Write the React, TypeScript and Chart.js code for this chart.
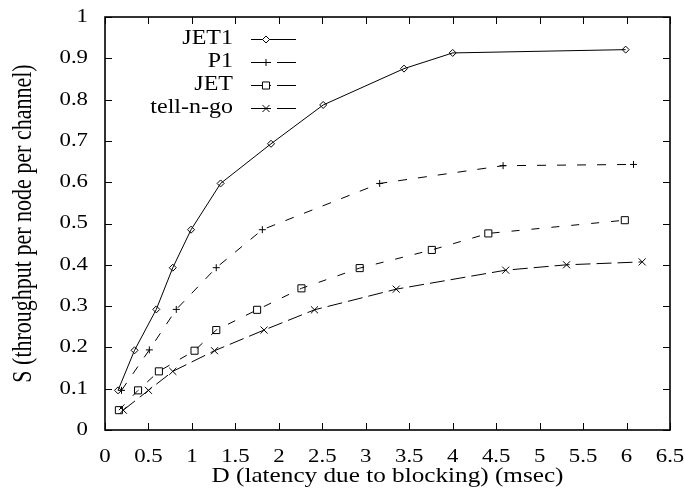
import React, { useEffect, useRef } from 'react';
import { Chart, registerables } from 'chart.js';
import { drawPoint } from 'chart.js/helpers';

Chart.register(...registerables);

// ---- data ----
const seriesNames = ['JET1', 'P1', 'JET', 'tell-n-go'];

const jet1X = [0.15, 0.34, 0.59, 0.78, 0.99, 1.33, 1.91, 2.51, 3.44, 4.0, 5.99];
const jet1Y = [0.096, 0.193, 0.292, 0.393, 0.485, 0.597, 0.693, 0.787, 0.875, 0.913, 0.921];

const p1X = [0.19, 0.51, 0.82, 1.28, 1.81, 3.16, 4.58, 6.08];
const p1Y = [0.096, 0.194, 0.292, 0.393, 0.485, 0.597, 0.64, 0.643];

const jetX = [0.16, 0.38, 0.62, 1.03, 1.28, 1.75, 2.26, 2.93, 3.76, 4.41, 5.98];
const jetY = [0.048, 0.096, 0.142, 0.192, 0.242, 0.291, 0.343, 0.392, 0.436, 0.476, 0.508];

const tellX = [0.21, 0.5, 0.78, 1.26, 1.83, 2.41, 3.35, 4.61, 5.31, 6.18];
const tellY = [0.048, 0.096, 0.142, 0.192, 0.242, 0.291, 0.341, 0.387, 0.4, 0.407];

const xTickValues = [0, 0.5, 1, 1.5, 2, 2.5, 3, 3.5, 4, 4.5, 5, 5.5, 6, 6.5];
const xTickLabels = ['0', '0.5', '1', '1.5', '2', '2.5', '3', '3.5', '4', '4.5', '5', '5.5', '6', '6.5'];
const yTickValues = [0, 0.1, 0.2, 0.3, 0.4, 0.5, 0.6, 0.7, 0.8, 0.9, 1];
const yTickLabels = ['0', '0.1', '0.2', '0.3', '0.4', '0.5', '0.6', '0.7', '0.8', '0.9', '1'];

const xTitle = 'D (latency due to blocking) (msec)';
const yTitle = 'S (throughput per node per channel)';

// ---- styles ----
const FONT = 'Liberation Serif';
const TEXT_STRETCH = 1.2; // reference text is horizontally widened

function toPoints(xs: number[], ys: number[]) {
  return xs.map((x, i) => ({ x, y: ys[i] }));
}

// widen all canvas text horizontally (in screen space) around its anchor
function stretchText(ctx: CanvasRenderingContext2D) {
  const origFill = ctx.fillText.bind(ctx);
  const origMeasure = ctx.measureText.bind(ctx);
  (ctx as any).fillText = (text: string, x: number, y: number, maxWidth?: number) => {
    const m = ctx.getTransform();
    const p = m.transformPoint(new DOMPoint(x, y));
    const s = new DOMMatrix([TEXT_STRETCH, 0, 0, 1, p.x * (1 - TEXT_STRETCH), 0]);
    ctx.setTransform(s.multiply(m));
    if (maxWidth === undefined || maxWidth === null) origFill(text, x, y);
    else origFill(text, x, y, maxWidth);
    ctx.setTransform(m);
  };
  (ctx as any).measureText = (text: string) => {
    const r = origMeasure(text);
    return {
      width: r.width * TEXT_STRETCH,
      actualBoundingBoxLeft: r.actualBoundingBoxLeft * TEXT_STRETCH,
      actualBoundingBoxRight: r.actualBoundingBoxRight * TEXT_STRETCH,
      actualBoundingBoxAscent: r.actualBoundingBoxAscent,
      actualBoundingBoxDescent: r.actualBoundingBoxDescent,
      fontBoundingBoxAscent: r.fontBoundingBoxAscent,
      fontBoundingBoxDescent: r.fontBoundingBoxDescent,
    };
  };
}

const framePlugin = {
  id: 'frame',
  afterDatasetsDraw(chart: any) {
    const { ctx, chartArea: a, scales } = chart;
    const tl = 7;
    ctx.save();
    ctx.strokeStyle = '#000';
    ctx.lineWidth = 1;
    ctx.setLineDash([]);
    ctx.beginPath();
    for (const v of xTickValues) {
      const px = Math.round(scales.x.getPixelForValue(v)) + 0.5;
      ctx.moveTo(px, a.bottom);
      ctx.lineTo(px, a.bottom - tl);
      ctx.moveTo(px, a.top);
      ctx.lineTo(px, a.top + tl);
    }
    for (const v of yTickValues) {
      const py = Math.round(scales.y.getPixelForValue(v)) + 0.5;
      ctx.moveTo(a.left, py);
      ctx.lineTo(a.left + tl, py);
      ctx.moveTo(a.right, py);
      ctx.lineTo(a.right - tl, py);
    }
    ctx.stroke();
    ctx.lineWidth = 1.6;
    ctx.strokeRect(a.left, a.top, a.right - a.left, a.bottom - a.top);
    ctx.restore();
  },
};

const keyPlugin = {
  id: 'key',
  afterDraw(chart: any) {
    const { ctx, chartArea: a } = chart;
    chart.data.datasets.forEach((ds: any, i: number) => {
      const y = a.top + 22 + i * 23;
      ctx.save();
      ctx.font = `20px "${FONT}"`;
      ctx.fillStyle = '#000';
      ctx.textAlign = 'right';
      ctx.textBaseline = 'middle';
      ctx.fillText(ds.label, a.left + 128, y);
      ctx.strokeStyle = '#000';
      ctx.lineWidth = 1;
      ctx.setLineDash(ds.borderDash && ds.borderDash.length ? [20, 6] : []);
      ctx.beginPath();
      ctx.moveTo(a.left + 146, y + 0.5);
      ctx.lineTo(a.left + 191, y + 0.5);
      ctx.stroke();
      ctx.setLineDash([]);
      ctx.fillStyle = '#fff';
      drawPoint(ctx, { pointStyle: ds.pointStyle, radius: ds.pointRadius, borderWidth: 1, rotation: 0 } as any, a.left + 161, y + 0.5);
      ctx.restore();
    });
  },
};

export default function App() {
  const canvasRef = useRef<HTMLCanvasElement | null>(null);

  useEffect(() => {
    const canvas = canvasRef.current;
    if (!canvas) return;
    const ctx = canvas.getContext('2d') as CanvasRenderingContext2D;
    stretchText(ctx);

    const common = {
      borderColor: '#000',
      borderWidth: 1,
      pointBorderColor: '#000',
      pointBackgroundColor: 'rgba(0,0,0,0)',
      pointBorderWidth: 1,
      tension: 0,
      fill: false,
    };

    const chart = new Chart(ctx, {
      type: 'line',
      data: {
        datasets: [
          { ...common, label: seriesNames[0], data: toPoints(jet1X, jet1Y), pointStyle: 'rectRot', pointRadius: 3.5, borderDash: [] },
          { ...common, label: seriesNames[1], data: toPoints(p1X, p1Y), pointStyle: 'cross', pointRadius: 3.5, borderDash: [9, 11] },
          { ...common, label: seriesNames[2], data: toPoints(jetX, jetY), pointStyle: 'rect', pointRadius: 5, borderDash: [8, 12] },
          { ...common, label: seriesNames[3], data: toPoints(tellX, tellY), pointStyle: 'crossRot', pointRadius: 5, borderDash: [15, 6] },
        ],
      },
      options: {
        animation: false,
        responsive: false,
        maintainAspectRatio: false,
        layout: { padding: { left: 0, right: 15, top: 17, bottom: 0 } },
        plugins: { legend: { display: false }, tooltip: { enabled: false } },
        scales: {
          x: {
            type: 'linear',
            min: 0,
            max: 6.5,
            afterBuildTicks: (s: any) => {
              s.ticks = xTickValues.map((v) => ({ value: v }));
            },
            afterFit: (s: any) => {
              s.height = 59;
              s.paddingLeft = 0;
              s.paddingRight = 0;
            },
            grid: { display: false, drawTicks: false },
            border: { display: false },
            ticks: {
              padding: 16,
              color: '#000',
              autoSkip: false,
              maxRotation: 0,
              font: { family: FONT, size: 19 },
              callback: (_v: any, i: number) => xTickLabels[i],
            },
            title: {
              display: true,
              text: xTitle,
              color: '#000',
              font: { family: FONT, size: 21 },
              padding: { top: 0, bottom: 0 },
            },
          },
          y: {
            type: 'linear',
            min: 0,
            max: 1,
            afterBuildTicks: (s: any) => {
              s.ticks = yTickValues.map((v) => ({ value: v }));
            },
            afterFit: (s: any) => {
              s.width = 105;
              s.paddingTop = 0;
              s.paddingBottom = 0;
            },
            grid: { display: false, drawTicks: false },
            border: { display: false },
            ticks: {
              padding: 17,
              color: '#000',
              autoSkip: false,
              font: { family: FONT, size: 19 },
              callback: (_v: any, i: number) => yTickLabels[i],
            },
            title: {
              display: true,
              text: yTitle,
              color: '#000',
              font: { family: FONT, size: 22 },
              padding: { top: 11, bottom: 0 },
            },
          },
        },
      },
      plugins: [framePlugin, keyPlugin],
    } as any);

    return () => {
      chart.destroy();
    };
  }, []);

  return (
    <div style={{ position: 'absolute', left: 0, top: 0, width: 685, height: 489, background: '#fff' }}>
      <canvas ref={canvasRef} width={685} height={489} style={{ display: 'block' }} />
    </div>
  );
}
